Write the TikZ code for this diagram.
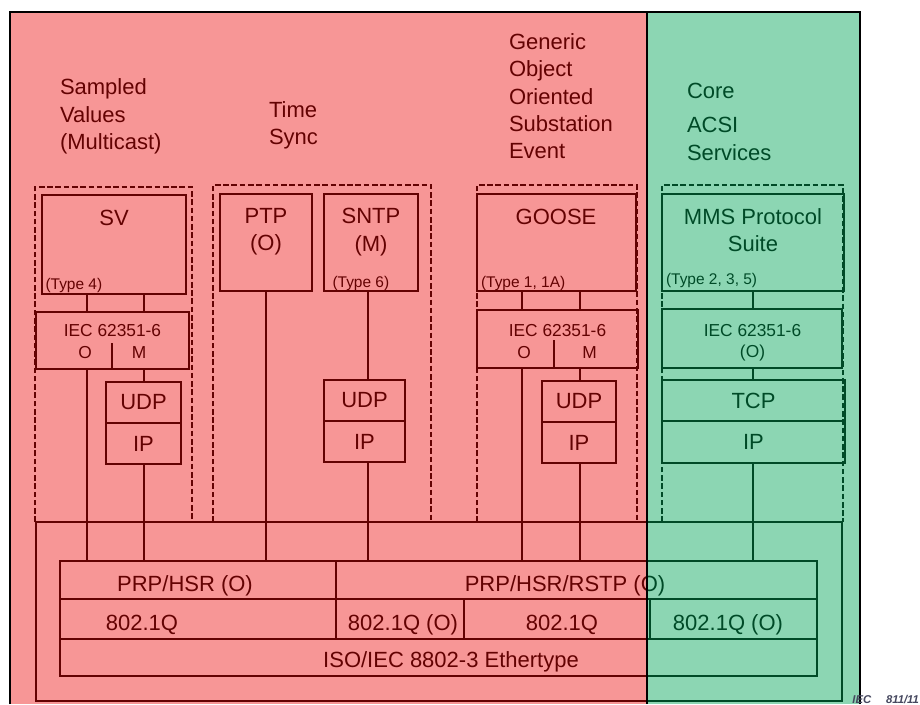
\documentclass[tikz,border=0pt]{standalone}
\usepackage{fontspec}
\setmainfont{Liberation Sans}
\usetikzlibrary{calc,positioning}

\definecolor{SVRed}   {RGB}{238,5,5}
\definecolor{CoreGreen}{RGB}{0,166,88}
\definecolor{TagGrey} {RGB}{70,72,95}
\def\pxu{0.75pt}

\begin{document}
\begin{tikzpicture}[x=0.75pt,y=-0.75pt,
  every node/.style={inner sep=0pt,outer sep=0pt},
  sz/.style 2 args={minimum width=#1*\pxu,minimum height=#2*\pxu},
  big/.style={font=\fontsize{16.5}{20.5}\selectfont},
  mid/.style={font=\fontsize{13}{16}\selectfont},
  tag/.style={font=\fontsize{11.6}{14}\selectfont,anchor=base west},
  blk/.style={draw,line width=1.5pt,anchor=north west},
  cell/.style={big,anchor=north west},
  link/.style={line width=1.5pt},
  rule/.style={line width=0.8pt},
  grp/.style={line width=0.8pt,dash pattern=on 4.2pt off 2pt}]

  \fill[white] (0,0) rectangle (920,704);
  \useasboundingbox (0,0) rectangle (920,704);

  \node[big,align=left,anchor=north west] (svhead)    at (60,79)    {Sampled\\Values\\(Multicast)};
  \node[big,align=left,anchor=north west] (synchead)  at (269,101.5) {Time\\Sync};
  \node[big,align=left,anchor=north west] (goosehead) at (509,33.5) {Generic\\Object\\Oriented\\Substation\\Event};
  \node[big,align=left,anchor=north west] (corehead)  at (687,83.5) {Core\\[5pt]ACSI\\Services};

  \draw[grp] (35,522)  |- (192,187) -- (192,522);
  \draw[grp] (213,522) |- (431,185) -- (431,522);
  \draw[grp] (477,522) |- (637,185) -- (637,522);
  \draw[grp] (662,522) |- (843,185) -- (843,522);

  \node[blk,sz={144}{99}] (sv)    at (42,195)  {};
  \node[blk,sz={92}{97}]  (ptp)   at (220,194) {};
  \node[blk,sz={94}{97}]  (sntp)  at (324,194) {};
  \node[blk,sz={159}{97}] (goose) at (477,194) {};
  \node[blk,sz={182}{97}] (mms)   at (662,194) {};

  \node[big,anchor=base] (svname)    at (114,225)   {SV};
  \node[big,anchor=north,align=center] (ptpname)  at (266,208.5) {PTP\\(O)};
  \node[big,anchor=north,align=center] (sntpname) at (371,208.5) {SNTP\\(M)};
  \node[big,anchor=base] (goosename) at (556,224)   {GOOSE};
  \node[big,anchor=north,align=center] (mmsname)  at (753,208.5) {MMS Protocol\\Suite};

  \node[tag] (svtype)    at (45.5,289.5) {(Type 4)};
  \node[tag] (sntptype)  at (332.5,287.5) {(Type 6)};
  \node[tag] (goosetype) at (481,287.5)  {(Type 1, 1A)};
  \node[tag] (mmstype)   at (666,284.5)  {(Type 2, 3, 5)};

  \node[blk,sz={153}{57}] (sv-iec)    at (36,312)  {};
  \node[blk,sz={161}{58}] (goose-iec) at (477,310) {};
  \node[blk,sz={180}{59}] (mms-iec)   at (662,309) {};
  \node[mid,anchor=base] (sviectxt)    at (112.5,336.5) {IEC 62351-6};
  \node[mid,anchor=base] (svo)         at (85,358.5)    {O};
  \node[mid,anchor=base] (svm)         at (139,358.5)   {M};
  \node[mid,anchor=base] (gooseiectxt) at (557.5,336)   {IEC 62351-6};
  \node[mid,anchor=base] (gooseo)      at (524,358)     {O};
  \node[mid,anchor=base] (goosem)      at (589.5,358)   {M};
  \node[mid,anchor=base] (mmsiectxt)   at (752.5,336)   {IEC 62351-6};
  \node[mid,anchor=base] (mmso)        at (752.5,357.5) {(O)};
  \draw[rule] (112,343) -- (112,369);
  \draw[rule] (554,340) -- (554,368);

  \foreach \n/\x/\y/\w in {sv/106/382/75,sntp/324/380/81,goose/542/381/74}{
    \node[cell,sz={\w}{41}] (\n-udp) at (\x,\y)    {UDP};
    \node[cell,sz={\w}{41}] (\n-ip)  at (\x,\y+41) {IP};
    \draw[rule] (\n-udp.south west) -- (\n-udp.south east);
    \draw[link] (\n-udp.north west) rectangle (\n-ip.south east);
  }
  \node[cell,sz={183}{41}] (mms-tcp) at (662,380) {TCP};
  \node[cell,sz={183}{42}] (mms-ip)  at (662,421) {IP};
  \draw[rule] (mms-tcp.south west) -- (mms-tcp.south east);
  \draw[link] (mms-tcp.north west) rectangle (mms-ip.south east);

  \node[blk,sz={806}{179}] (stack) at (36,522) {};
  \node[blk,sz={757}{115}] (prp)   at (60,561) {};
  \draw[rule] (60,599) -- (817,599);
  \draw[rule] (60,639) -- (817,639);
  \draw[rule] (336,561) -- (336,639);
  \draw[rule] (464,599) -- (464,639);
  \draw[rule] (650,599) -- (650,639);
  \node[big,anchor=base] (prphsr)  at (185,591.5) {PRP/HSR (O)};
  \node[big,anchor=base] (prprstp) at (565,591.5) {PRP/HSR/RSTP (O)};
  \node[big,anchor=base] (qa)      at (142,630)   {802.1Q};
  \node[big,anchor=base] (qb)      at (403,630)   {802.1Q (O)};
  \node[big,anchor=base] (qc)      at (562,630)   {802.1Q};
  \node[big,anchor=base] (qd)      at (728,630)   {802.1Q (O)};
  \node[big,anchor=base] (ether)   at (451,667)   {ISO/IEC 8802-3 Ethertype};

  \coordinate (svO) at (87,0);
  \coordinate (svM) at (144,0);
  \coordinate (sntpL) at (368,0);
  \coordinate (gooseO) at (522,0);
  \coordinate (gooseM) at (580,0);
  \draw[link] (sv.south -| svO) -- (sv-iec.north -| svO);
  \draw[link] (sv-iec.south -| svO) -- (prp.north -| svO);
  \draw[link] (sv.south -| svM) -- (sv-iec.north -| svM);
  \draw[link] (sv-iec.south -| svM) -- (sv-udp.north -| svM);
  \draw[link] (sv-ip.south -| svM) -- (prp.north -| svM);
  \draw[link] (ptp.south) -- (prp.north -| ptp.south);
  \draw[link] (sntp.south -| sntpL) -- (sntp-udp.north -| sntpL);
  \draw[link] (sntp-ip.south -| sntpL) -- (prp.north -| sntpL);
  \draw[link] (goose.south -| gooseO) -- (goose-iec.north -| gooseO);
  \draw[link] (goose-iec.south -| gooseO) -- (prp.north -| gooseO);
  \draw[link] (goose.south -| gooseM) -- (goose-iec.north -| gooseM);
  \draw[link] (goose-iec.south -| gooseM) -- (goose-udp.north -| gooseM);
  \draw[link] (goose-ip.south -| gooseM) -- (prp.north -| gooseM);
  \draw[link] (mms.south) -- (mms-iec.north -| mms.south);
  \draw[link] (mms-iec.south -| mms.south) -- (mms-tcp.north -| mms.south);
  \draw[link] (mms-ip.south -| mms.south) -- (prp.north -| mms.south);

  \fill[SVRed,fill opacity=0.42]    (10,12)  rectangle (647,704);
  \fill[CoreGreen,fill opacity=0.45] (647,12) rectangle (860,704);
  \draw[line width=1.5pt] (10,704) -- (10,12) -- (860,12) -- (860,704);
  \draw[line width=1.5pt] (647,12) -- (647,704);

  \node[anchor=base east,text=TagGrey,font=\fontsize{8.5}{10}\bfseries\itshape] (iectag)
    at (919,703) {IEC\hspace{11pt}811/11};
\end{tikzpicture}
\end{document}
